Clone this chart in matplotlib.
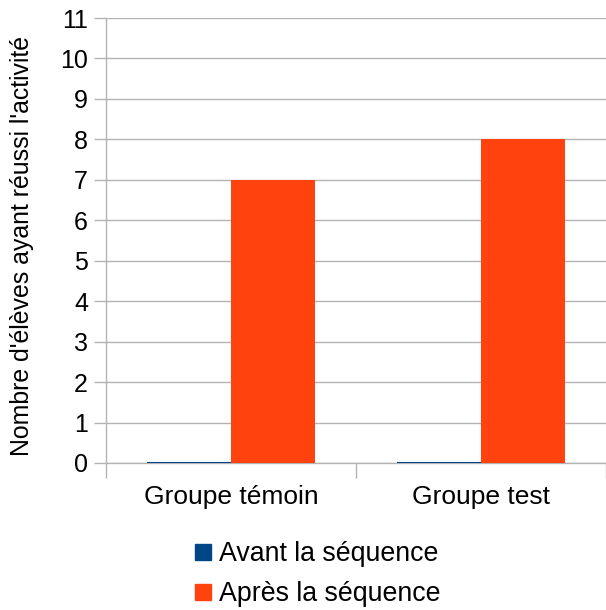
import matplotlib
matplotlib.use("Agg")
import matplotlib.pyplot as plt
from matplotlib.lines import Line2D
import numpy as np

plt.rcParams['font.family'] = ['Liberation Sans', 'DejaVu Sans']

categories = ["Groupe témoin", "Groupe test"]
series_names = ["Avant la séquence", "Après la séquence"]
avant = [0, 0]
apres = [7, 8]
colors = ["#004586", "#ff420e"]
y_ticks = list(range(0, 12))

fig = plt.figure(figsize=(6.06, 6.10), dpi=100)
ax = fig.add_axes([106/606, 1-463/610, 500/606, 445/610])

x = np.arange(len(categories))
w = 0.335
ax.bar(x - w/2, avant, width=w, color=colors[0], zorder=3)
ax.bar(x + w/2, apres, width=w, color=colors[1], zorder=3)
# zero-height bars shown as thin line
for xi, v in zip(x, avant):
    ax.plot([xi - w, xi], [v, v], color=colors[0], lw=1.5, zorder=4, solid_capstyle='butt')

ax.set_xlim(-0.5, 1.5)
ax.set_ylim(0, 11)
ax.set_yticks(y_ticks)
ax.set_yticklabels([str(t) for t in y_ticks], fontsize=18)
ax.yaxis.grid(True, color="#b3b3b3", lw=1, zorder=0)
ax.set_axisbelow(True)

ax.set_xticks(x)
ax.set_xticklabels(categories, fontsize=19)
ax.tick_params(axis='x', which='major', length=0, pad=16)
ax.set_xticks([-0.5, 0.5, 1.5], minor=True)
ax.tick_params(axis='x', which='minor', length=11, color="#b3b3b3", width=1)
ax.tick_params(axis='y', length=9, color="#b3b3b3", width=1, pad=4)

for s in ['top', 'right']:
    ax.spines[s].set_visible(False)
for s in ['left', 'bottom']:
    ax.spines[s].set_color("#b3b3b3")
    ax.spines[s].set_linewidth(1)

ax.set_ylabel("Nombre d'élèves ayant réussi l'activité", fontsize=17.9)
ax.yaxis.set_label_coords(-0.143, 0.487)

handles = [Line2D([0], [0], marker='s', linestyle='none', markersize=11.5,
                  markerfacecolor=c, markeredgecolor=c) for c in colors]
fig.legend(handles, series_names, loc='center', bbox_to_anchor=(0.525, 0.059),
           frameon=False, fontsize=19.3, handlelength=0.55, handletextpad=0.3,
           labelspacing=0.53, borderpad=0)

fig.savefig("out.png", dpi=100)
